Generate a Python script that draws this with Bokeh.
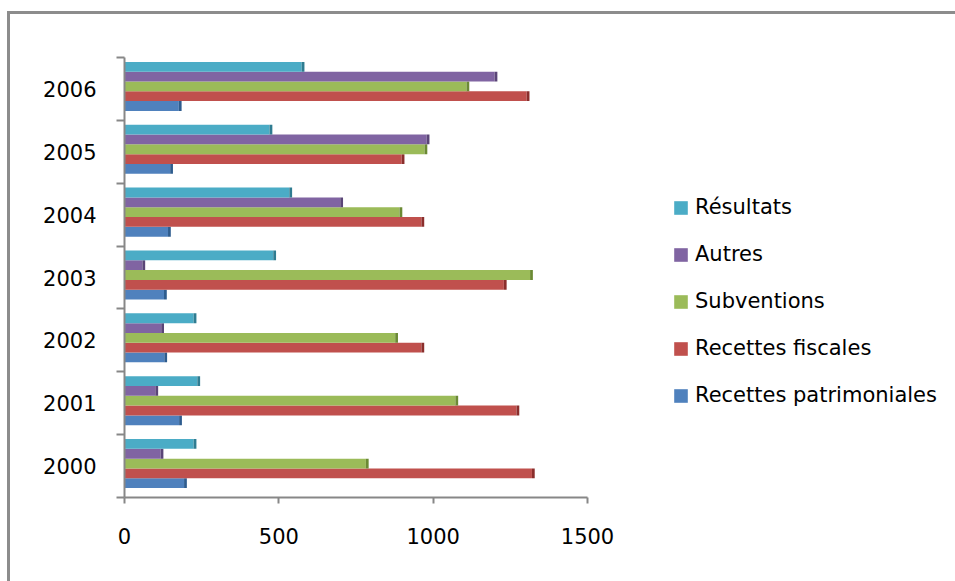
from bokeh.plotting import figure
from bokeh.models import (ColumnDataSource, Range1d, LinearAxis, FixedTicker,
                          Legend, LegendItem)
from bokeh.transform import dodge
from bokeh.embed import file_html
from bokeh.resources import INLINE

years = ["2000", "2001", "2002", "2003", "2004", "2005", "2006"]
series = ["Recettes patrimoniales", "Recettes fiscales", "Subventions", "Autres", "Résultats"]
recettes_patrimoniales = [193, 177, 129, 128, 141, 148, 176]
recettes_fiscales = [1320, 1270, 962, 1229, 962, 898, 1303]
subventions = [782, 1072, 877, 1314, 891, 972, 1108]
autres = [117, 100, 119, 58, 699, 979, 1199]
resultats = [224, 236, 224, 482, 534, 470, 574]
x_ticks = [0, 500, 1000, 1500]

values = [recettes_patrimoniales, recettes_fiscales, subventions, autres, resultats]
colors = ["#4F81BD", "#C0504D", "#9BBB59", "#8064A2", "#4BACC6"]
caps = ["#2E5C8E", "#8B2E2C", "#6B8A34", "#5A4577", "#2F7C91"]
offsets = [-0.272, -0.116, 0.04, 0.196, 0.352]
bar_h = 0.156
cap_w = 9

FONT = "DejaVu Sans"

# layout: the value axis (0..1500) spans AXIS_PX pixels; the frame is wider so the legend fits in it
X_MAX = 1500
AXIS_PX = 463
FRAME_W = 822
FRAME_H = 440
x_end = X_MAX * FRAME_W / AXIS_PX

# category slots: each year occupies one unit band on the y scale
centers = [i + 0.5 for i in range(len(years))]
bounds = [float(i) for i in range(len(years) + 1)]

p = figure(width=114 + FRAME_W + 9, height=43 + FRAME_H + 84,
           frame_width=FRAME_W, frame_height=FRAME_H,
           output_backend="svg", toolbar_location=None,
           x_range=Range1d(0, x_end), y_range=Range1d(0, len(years)),
           y_axis_type=None, x_axis_type=None,
           min_border_left=114, min_border_top=43, min_border_right=9, min_border_bottom=84)
p.margin = (11, 0, 0, 7)
p.styles = {"border-top": "3px solid #8c8c8c", "border-left": "3px solid #8c8c8c"}
p.outline_line_color = None
p.background_fill_color = "white"
p.border_fill_color = "white"

renderers = []
for name, vals, col, cap, off in zip(series, values, colors, caps, offsets):
    src = ColumnDataSource(dict(year=years, slot=centers, v=vals, v2=[x + cap_w for x in vals]))
    r = p.hbar(y=dodge("slot", off), left=0, right="v", height=bar_h,
               fill_color=col, line_color=None, source=src)
    p.hbar(y=dodge("slot", off), left="v", right="v2", height=bar_h,
           fill_color=cap, line_color=None, source=src)
    renderers.append((name, r))

# x axis
xa = LinearAxis(ticker=FixedTicker(ticks=x_ticks, minor_ticks=[]), bounds=(0, X_MAX))
xa.axis_line_color = "#878787"
xa.axis_line_width = 2
xa.major_tick_line_color = "#878787"
xa.major_tick_line_width = 2
xa.major_tick_out = 6
xa.major_tick_in = 0
xa.minor_tick_line_color = None
xa.major_label_text_font = FONT
xa.major_label_text_font_size = "21px"
xa.major_label_text_color = "black"
xa.major_label_standoff = 24
p.add_layout(xa, "below")

# y axis (category labels at centres, ticks at category boundaries)
ya = LinearAxis(ticker=FixedTicker(ticks=centers, minor_ticks=bounds))
ya.major_label_overrides = {c: y for c, y in zip(centers, years)}
ya.axis_line_color = "#878787"
ya.axis_line_width = 2
ya.major_tick_line_color = None
ya.major_tick_out = 0
ya.major_tick_in = 0
ya.minor_tick_line_color = "#878787"
ya.minor_tick_line_width = 2
ya.minor_tick_out = 8
ya.minor_tick_in = 0
ya.major_label_text_font = FONT
ya.major_label_text_font_size = "21px"
ya.major_label_text_color = "black"
ya.major_label_standoff = 20
p.add_layout(ya, "left")

items = [LegendItem(label=n, renderers=[r]) for n, r in reversed(renderers)]
legend = Legend(items=items, location=(548, 90), orientation="vertical",
                padding=0, margin=0, spacing=23, label_height=24, glyph_height=17,
                glyph_width=17, label_standoff=6, border_line_color=None,
                background_fill_alpha=0, label_text_font=FONT, label_text_font_size="21px",
                label_text_color="black")
p.add_layout(legend, "center")

open("out.html", "w").write(file_html(p, INLINE))
